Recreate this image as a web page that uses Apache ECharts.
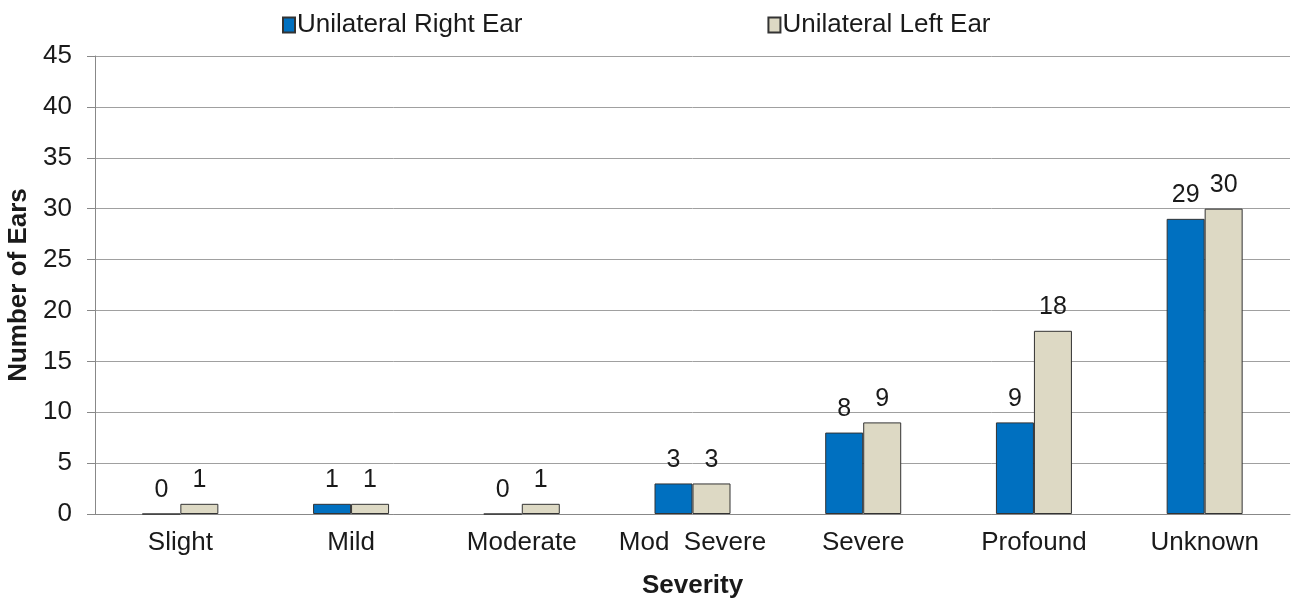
<!DOCTYPE html>
<html>
<head>
<meta charset="utf-8">
<script src="https://cdn.jsdelivr.net/npm/echarts@6/dist/echarts.min.js"></script>
<style>
  html, body { margin: 0; padding: 0; background: #fff; }
  #chart { width: 1294px; height: 600px; }
</style>
</head>
<body>
<div id="chart"></div>
<script>
const categories = ["Slight", "Mild", "Moderate", "Mod  Severe", "Severe", "Profound", "Unknown"];
const rightEar = [0, 1, 0, 3, 8, 9, 29];
const leftEar = [1, 1, 1, 3, 9, 18, 30];
const yTicks = { min: 0, max: 45, interval: 5 };

const chart = echarts.init(document.getElementById("chart"));
const font = "Liberation Sans, Arial, sans-serif";

const labelStyle = {
  show: true,
  position: "top",
  distance: 11,
  color: "#1a1a1a",
  fontSize: 25,
  fontFamily: font
};

chart.setOption({
  animation: false,
  textStyle: { fontFamily: font },
  legend: {
    top: 7,
    left: 277,
    itemGap: 245,
    itemWidth: 12,
    itemHeight: 15,
    icon: "rect",
    textStyle: { fontSize: 26, color: "#1a1a1a", fontFamily: font, padding: [0, 0, 0, -3] },
    data: ["Unilateral Right Ear", "Unilateral Left Ear"]
  },
  grid: { left: 95, right: 4, top: 56, bottom: 86, containLabel: false, outerBoundsMode: "none" },
  xAxis: {
    type: "category",
    data: categories,
    name: "Severity",
    nameLocation: "middle",
    nameGap: 59,
    nameTextStyle: { fontSize: 26, fontWeight: "bold", color: "#1a1a1a", fontFamily: font },
    axisLine: { lineStyle: { color: "#888" } },
    axisTick: { show: false },
    axisLabel: { interval: 0, hideOverlap: false, fontSize: 26, color: "#1a1a1a", margin: 16, fontFamily: font }
  },
  yAxis: {
    type: "value",
    min: yTicks.min,
    max: yTicks.max,
    interval: yTicks.interval,
    name: "Number of Ears",
    nameLocation: "middle",
    nameGap: 60,
    nameTextStyle: { fontSize: 26, fontWeight: "bold", color: "#1a1a1a", fontFamily: font },
    axisLine: { show: true, lineStyle: { color: "#888" } },
    axisTick: { show: true, inside: false, length: 8, lineStyle: { color: "#888" } },
    axisLabel: { fontSize: 26, color: "#1a1a1a", margin: 23, fontFamily: font },
    splitLine: { lineStyle: { color: "#a0a0a0" } }
  },
  series: [
    {
      name: "Unilateral Right Ear",
      type: "bar",
      data: rightEar,
      barWidth: 38,
      barGap: "0%",
      itemStyle: { color: "#0070c0", borderColor: "#333", borderWidth: 1 },
      label: labelStyle
    },
    {
      name: "Unilateral Left Ear",
      type: "bar",
      data: leftEar,
      barWidth: 38,
      barGap: "0%",
      itemStyle: { color: "#ddd9c4", borderColor: "#333", borderWidth: 1 },
      label: labelStyle
    }
  ]
});
</script>
</body>
</html>
